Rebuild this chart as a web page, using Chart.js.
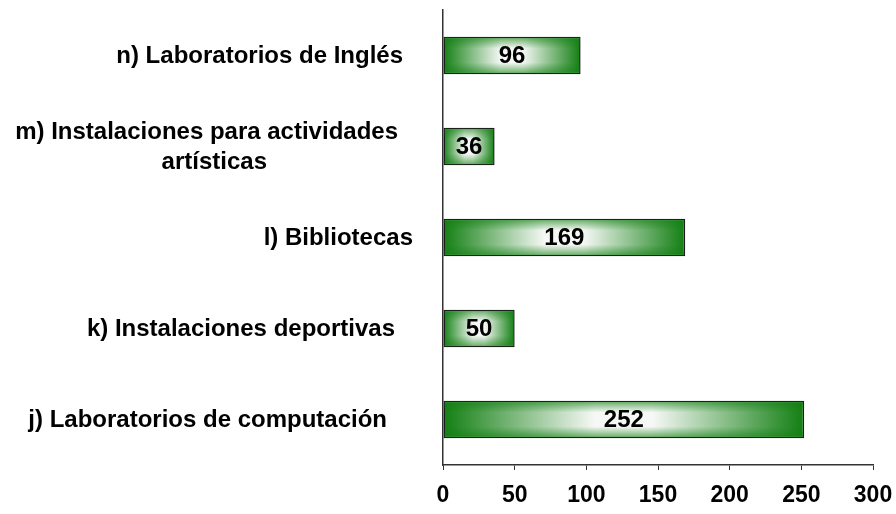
<!DOCTYPE html>
<html>
<head>
<meta charset="utf-8">
<script src="https://cdn.jsdelivr.net/npm/chart.js@4.4.1/dist/chart.umd.min.js"></script>
<style>
  html, body { margin: 0; padding: 0; background: #fff; }
  #wrap { width: 896px; height: 514px; position: relative; }
</style>
</head>
<body>
<div id="wrap"><canvas id="chart"></canvas></div>
<script>
// data (top to bottom)
const categories = [
    'n) Laboratorios de Inglés',
    ['m) Instalaciones para actividades', 'artísticas'],
    'l) Bibliotecas',
    'k) Instalaciones deportivas',
    'j) Laboratorios de computación'
];
const values = [96, 36, 169, 50, 252];
const xTicks = [0, 50, 100, 150, 200, 250, 300];

// per-line shift of the category labels to the left (px), as in the original
const labelShift = [[10], [15, 146], [0], [18], [26]];

const DARK = '#127f12';
const LIGHT = '#f5f8f5';
const FONT = '"Liberation Sans", Arial, sans-serif';

function barGradient(ctx) {
    const chart = ctx.chart;
    const xs = chart.scales.x;
    if (!xs || ctx.raw === undefined) return DARK;
    const x0 = xs.getPixelForValue(0);
    const x1 = xs.getPixelForValue(ctx.raw);
    if (!isFinite(x0) || !isFinite(x1) || x0 === x1) return DARK;
    const g = chart.ctx.createLinearGradient(x0, 0, x1, 0);
    g.addColorStop(0, DARK);
    g.addColorStop(0.42, LIGHT);
    g.addColorStop(0.58, LIGHT);
    g.addColorStop(1, DARK);
    return g;
}

const barDecor = {
    id: 'barDecor',
    afterDatasetsDraw(chart) {
        const ctx = chart.ctx;
        const meta = chart.getDatasetMeta(0);
        ctx.save();
        meta.data.forEach((bar, i) => {
            const p = bar.getProps(['x', 'y', 'base', 'height'], true);
            const top = p.y - p.height / 2 + 1;
            const bot = p.y + p.height / 2 - 1;
            const left = Math.min(p.base, p.x) + 1;
            const right = Math.max(p.base, p.x) - 1;
            // top/bottom shading to mimic the rectangular gradient
            const g = ctx.createLinearGradient(0, top, 0, bot);
            g.addColorStop(0, 'rgba(18,127,18,0.6)');
            g.addColorStop(0.3, 'rgba(18,127,18,0)');
            g.addColorStop(0.7, 'rgba(18,127,18,0)');
            g.addColorStop(1, 'rgba(18,127,18,0.6)');
            ctx.fillStyle = g;
            ctx.fillRect(left, top, right - left, bot - top);

            ctx.fillStyle = '#000';
            ctx.font = 'bold 24px ' + FONT;
            ctx.textAlign = 'center';
            ctx.textBaseline = 'middle';
            ctx.fillText(String(values[i]), (p.base + p.x) / 2, p.y + 1);
        });
        ctx.restore();
    },
    afterDraw(chart) {
        // category labels left of the axis
        const ctx = chart.ctx;
        const ys = chart.scales.y;
        const axisX = chart.chartArea.left;
        const lineH = 30;
        ctx.save();
        ctx.fillStyle = '#000';
        ctx.font = 'bold 24px ' + FONT;
        ctx.textAlign = 'right';
        ctx.textBaseline = 'middle';
        categories.forEach((lab, i) => {
            const lines = Array.isArray(lab) ? lab : [lab];
            const cy = ys.getPixelForValue(i);
            const y0 = cy - (lines.length - 1) * lineH / 2;
            lines.forEach((t, j) => {
                ctx.fillText(t, axisX - 30 - labelShift[i][j], y0 + j * lineH + 1);
            });
        });
        ctx.restore();
    }
};

new Chart(document.getElementById('chart'), {
    type: 'bar',
    data: {
        labels: categories,
        datasets: [{
            data: values,
            backgroundColor: barGradient,
            borderColor: '#1a1a1a',
            borderWidth: 1.5,
            borderSkipped: false,
            barPercentage: 0.41,
            categoryPercentage: 1
        }]
    },
    options: {
        indexAxis: 'y',
        responsive: true,
        maintainAspectRatio: false,
        animation: false,
        layout: { padding: { left: 435, right: 6, top: 10, bottom: 0 } },
        plugins: {
            legend: { display: false },
            tooltip: { enabled: false }
        },
        scales: {
            x: {
                min: xTicks[0],
                max: xTicks[xTicks.length - 1],
                afterBuildTicks: axis => { axis.ticks = xTicks.map(v => ({ value: v })); },
                afterFit: axis => {
                    axis.height = 49;
                    axis.paddingRight = 23;
                    axis.paddingLeft = 0;
                },
                grid: { display: true, drawOnChartArea: false, drawTicks: true, tickLength: 5, color: '#333' },
                border: { display: true, color: '#333', width: 1.5 },
                ticks: {
                    color: '#000',
                    padding: 12,
                    font: { family: FONT, size: 23, weight: 'bold' }
                }
            },
            y: {
                grid: { display: false },
                border: { display: true, color: '#333', width: 1.5 },
                ticks: { display: false }
            }
        }
    },
    plugins: [barDecor]
});
</script>
</body>
</html>
